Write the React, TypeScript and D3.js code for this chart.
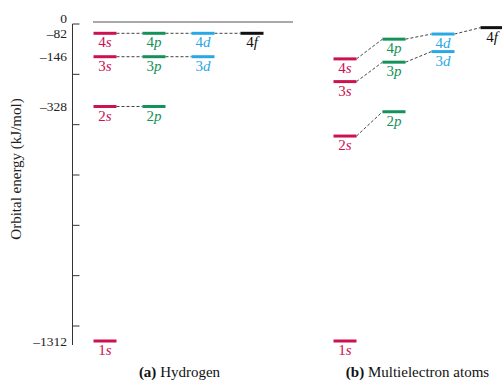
import React, { useEffect, useRef } from 'react';
import * as d3 from 'd3';

// orbital names and energies (kJ/mol); the figure is not drawn to scale
const orbitals = ['1s', '2s', '2p', '3s', '3p', '3d', '4s', '4p', '4d', '4f'];
const hydrogenEnergy = [-1312, -328, -328, -146, -146, -146, -82, -82, -82, -82];
const multiEnergy = [-1312, -452, -350, -237, -166, -132, -154, -98, -84, -37];
const subshells = ['s', 'p', 'd', 'f'];
const energyLabels = [0, -82, -146, -328, -1312];
const axisTickCount = 7;
const panelTitles = [['(a)', ' Hydrogen'], ['(b)', ' Multielectron atoms']];

const W = 502;
const H = 382;
const serif = '"Palatino Linotype", Palatino, "Liberation Serif", "DejaVu Serif", serif';
const colors: Record<string, string> = { s: '#cc1250', p: '#15925a', d: '#2aa8e6', f: '#111111' };

const App = () => {
  const ref = useRef<SVGSVGElement>(null);

  useEffect(() => {
    const svg = d3.select(ref.current);
    svg.selectAll('*').remove();

    // piecewise scale because the diagram is broken between levels
    const y = d3.scaleLinear()
      .domain([0, -82, -146, -328, -1312])
      .range([23, 33.3, 56.7, 106.5, 341]);
    const tickY = d3.scaleLinear().domain([0, axisTickCount - 1]).range([24, 326]);

    const xa = d3.scalePoint().domain(subshells).range([105, 252]);
    const xb = d3.scalePoint().domain(subshells).range([345, 492]);
    const halfBar = 11.5;
    const axisX = 72.5;

    // axis line and ticks
    svg.append('line')
      .attr('x1', axisX).attr('x2', axisX)
      .attr('y1', tickY(0)).attr('y2', 345)
      .attr('stroke', '#333').attr('stroke-width', 1);
    svg.selectAll('.tk').data(d3.range(axisTickCount)).join('line')
      .attr('x1', axisX).attr('x2', axisX + 7)
      .attr('y1', d => tickY(d)).attr('y2', d => tickY(d))
      .attr('stroke', '#333').attr('stroke-width', 1);

    svg.selectAll('.elab').data(energyLabels).join('text')
      .attr('x', 67)
      .attr('y', d => y(d) - (d === 0 ? 5 : 0))
      .attr('dy', '0.35em')
      .attr('text-anchor', 'end')
      .attr('font-family', serif)
      .attr('font-size', 13.5)
      .attr('fill', '#222')
      .text(d => (d < 0 ? '\u2013' + Math.abs(d) : String(d)));

    svg.append('text')
      .attr('transform', `translate(21,169) rotate(-90)`)
      .attr('text-anchor', 'middle')
      .attr('font-family', serif)
      .attr('font-size', 15)
      .attr('fill', '#222')
      .text('Orbital energy (kJ/mol)');

    // zero (ionization) line for hydrogen
    svg.append('line')
      .attr('x1', 93).attr('x2', 293)
      .attr('y1', y(0) - 1).attr('y2', y(0) - 1)
      .attr('stroke', '#555').attr('stroke-width', 1.2);

    const drawPanel = (x: d3.ScalePoint<string>, energy: number[]) => {
      const data = orbitals.map((o, i) => ({ n: +o[0], l: o[1], name: o, e: energy[i] }));
      const g = svg.append('g');

      // dashed connectors between subshells of the same shell
      d3.range(1, 5).forEach(n => {
        const shell = data.filter(d => d.n === n);
        for (let i = 1; i < shell.length; i++) {
          const a = shell[i - 1];
          const b = shell[i];
          g.append('line')
            .attr('x1', (x(a.l) as number) + halfBar).attr('y1', y(a.e))
            .attr('x2', (x(b.l) as number) - halfBar).attr('y2', y(b.e))
            .attr('stroke', '#444').attr('stroke-width', 1)
            .attr('stroke-dasharray', '3,2');
        }
      });

      g.selectAll('.bar').data(data).join('line')
        .attr('x1', d => (x(d.l) as number) - halfBar)
        .attr('x2', d => (x(d.l) as number) + halfBar)
        .attr('y1', d => y(d.e)).attr('y2', d => y(d.e))
        .attr('stroke', d => colors[d.l]).attr('stroke-width', 3);

      const lab = g.selectAll('.lab').data(data).join('text')
        .attr('x', d => x(d.l) as number)
        .attr('y', d => y(d.e) + 14)
        .attr('text-anchor', 'middle')
        .attr('font-family', serif)
        .attr('font-size', 15)
        .attr('fill', d => colors[d.l]);
      lab.append('tspan').text(d => String(d.n));
      lab.append('tspan').attr('font-style', 'italic').text(d => d.l);
    };

    drawPanel(xa, hydrogenEnergy);
    drawPanel(xb, multiEnergy);

    // panel titles
    [179.5, 417.5].forEach((cx, i) => {
      const t = svg.append('text')
        .attr('x', cx).attr('y', 377)
        .attr('text-anchor', 'middle')
        .attr('font-family', serif)
        .attr('font-size', 15)
        .attr('fill', '#111');
      t.append('tspan').attr('font-weight', 'bold').text(panelTitles[i][0]);
      t.append('tspan').text(panelTitles[i][1]);
    });
  }, []);

  return (
    <svg
      ref={ref}
      width={W}
      height={H}
      style={{ position: 'absolute', left: 0, top: 0, background: '#fff' }}
    />
  );
};

export default App;
